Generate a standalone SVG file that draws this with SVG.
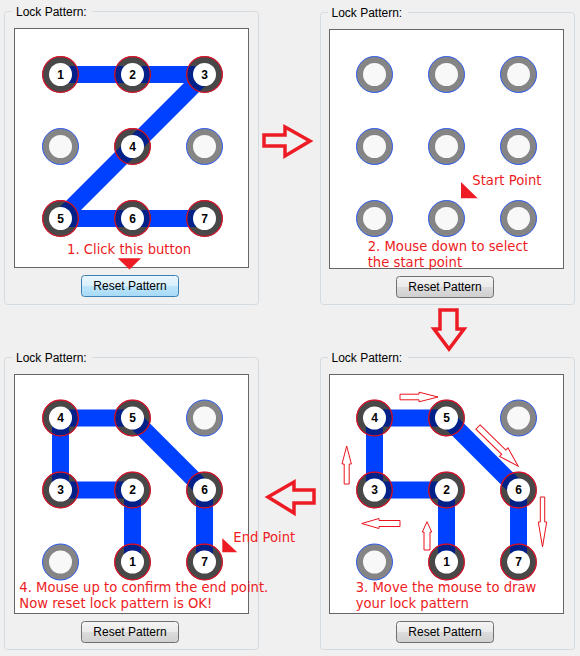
<svg xmlns="http://www.w3.org/2000/svg" width="580" height="656" viewBox="0 0 580 656">
<defs>
<style>
.gbox{fill:none;stroke:#d3dbe1;stroke-width:1}
.gcover{fill:#f0f0f0}
.glabel{font-family:"Liberation Sans",Arial,sans-serif;font-size:12px;fill:#000}
.canvas{fill:#fff;stroke:#666;stroke-width:1}
.btn{stroke:#707070;stroke-width:1;fill:url(#gray)}
.btnh{stroke:#3c7fb1;stroke-width:1;fill:url(#blue)}
.btext{font-family:"Liberation Sans",Arial,sans-serif;font-size:12px;fill:#000;text-anchor:middle}
.pline{fill:none;stroke:#0040ff;stroke-width:17;stroke-linejoin:bevel}
.pnavy{fill:none;stroke:#00208a;stroke-width:17;stroke-linejoin:bevel}
.ring{fill:#484848}
.ringo{fill:none;stroke:#e0102a;stroke-width:1.2}
.inner{fill:#fff}
.uring{fill:#858585;stroke:#2f5cf0;stroke-width:1}
.uinner{fill:#f8f8f8}
.num{font-family:"Liberation Sans",Arial,sans-serif;font-size:12px;font-weight:bold;fill:#000;text-anchor:middle}
.note{font-family:"DejaVu Sans",Verdana,sans-serif;font-size:13.2px;fill:#ed1c24}
.tri{fill:#ed1c24}
.big{fill:none;stroke:#ed1c24;stroke-width:3.5;stroke-linejoin:miter}
.small{fill:none;stroke:#e8141e;stroke-width:1}
</style>
<linearGradient id="gray" x1="0" y1="0" x2="0" y2="1">
<stop offset="0" stop-color="#f4f4f4"/><stop offset="0.5" stop-color="#eaeaea"/><stop offset="0.5" stop-color="#dcdcdc"/><stop offset="1" stop-color="#cfcfcf"/>
</linearGradient>
<linearGradient id="blue" x1="0" y1="0" x2="0" y2="1">
<stop offset="0" stop-color="#eaf6fd"/><stop offset="0.5" stop-color="#d9f0fc"/><stop offset="0.5" stop-color="#bee6fd"/><stop offset="1" stop-color="#a7d9f5"/>
</linearGradient>
<clipPath id="cp1">
<circle cx="60.5" cy="74.5" r="18.3"/><circle cx="132.5" cy="74.5" r="18.3"/><circle cx="204.5" cy="74.5" r="18.3"/>
<circle cx="132.5" cy="146.5" r="18.3"/>
<circle cx="60.5" cy="218.5" r="18.3"/><circle cx="132.5" cy="218.5" r="18.3"/><circle cx="204.5" cy="218.5" r="18.3"/>
</clipPath>
<clipPath id="cp3">
<circle cx="60.5" cy="418" r="18.3"/><circle cx="132.5" cy="418" r="18.3"/>
<circle cx="60.5" cy="490" r="18.3"/><circle cx="132.5" cy="490" r="18.3"/><circle cx="204.5" cy="490" r="18.3"/>
<circle cx="132.5" cy="562" r="18.3"/><circle cx="204.5" cy="562" r="18.3"/>
</clipPath>
<clipPath id="cp4">
<circle cx="374.5" cy="418" r="18.3"/><circle cx="446.5" cy="418" r="18.3"/>
<circle cx="374.5" cy="490" r="18.3"/><circle cx="446.5" cy="490" r="18.3"/><circle cx="518.5" cy="490" r="18.3"/>
<circle cx="446.5" cy="562" r="18.3"/><circle cx="518.5" cy="562" r="18.3"/>
</clipPath>
</defs>
<rect x="0" y="0" width="580" height="656" fill="#f0f0f0"/>

<!-- Panel 1 -->
<g id="panel1">
<rect class="gbox" x="4.5" y="11.5" width="254" height="293" rx="3"/>
<rect class="gcover" x="12" y="5" width="80" height="11"/>
<text class="glabel" x="16" y="16">Lock Pattern:</text>
<rect class="canvas" x="14.5" y="28.5" width="234" height="239"/>
<path class="pline" d="M60.5,74.5 H204.5 L60.5,218.5 H204.5"/>
<g id="p1-nodes">
<circle class="uring" cx="60.5" cy="146.5" r="18"/><circle class="uinner" cx="60.5" cy="146.5" r="11.5"/>
<circle class="uring" cx="204.5" cy="146.5" r="18"/><circle class="uinner" cx="204.5" cy="146.5" r="11.5"/>
<circle class="ring" cx="60.5" cy="74.5" r="18.3"/><circle class="ring" cx="132.5" cy="74.5" r="18.3"/><circle class="ring" cx="204.5" cy="74.5" r="18.3"/>
<circle class="ring" cx="132.5" cy="146.5" r="18.3"/>
<circle class="ring" cx="60.5" cy="218.5" r="18.3"/><circle class="ring" cx="132.5" cy="218.5" r="18.3"/><circle class="ring" cx="204.5" cy="218.5" r="18.3"/>
<path class="pnavy" clip-path="url(#cp1)" d="M60.5,74.5 H204.5 L60.5,218.5 H204.5"/>
<g id="p1-n1"><circle class="inner" cx="60.5" cy="74.5" r="11.5"/><circle class="ringo" cx="60.5" cy="74.5" r="17.8"/><text class="num" x="60.5" y="78.8">1</text></g>
<g id="p1-n2"><circle class="inner" cx="132.5" cy="74.5" r="11.5"/><circle class="ringo" cx="132.5" cy="74.5" r="17.8"/><text class="num" x="132.5" y="78.8">2</text></g>
<g id="p1-n3"><circle class="inner" cx="204.5" cy="74.5" r="11.5"/><circle class="ringo" cx="204.5" cy="74.5" r="17.8"/><text class="num" x="204.5" y="78.8">3</text></g>
<g id="p1-n4"><circle class="inner" cx="132.5" cy="146.5" r="11.5"/><circle class="ringo" cx="132.5" cy="146.5" r="17.8"/><text class="num" x="132.5" y="150.8">4</text></g>
<g id="p1-n5"><circle class="inner" cx="60.5" cy="218.5" r="11.5"/><circle class="ringo" cx="60.5" cy="218.5" r="17.8"/><text class="num" x="60.5" y="222.8">5</text></g>
<g id="p1-n6"><circle class="inner" cx="132.5" cy="218.5" r="11.5"/><circle class="ringo" cx="132.5" cy="218.5" r="17.8"/><text class="num" x="132.5" y="222.8">6</text></g>
<g id="p1-n7"><circle class="inner" cx="204.5" cy="218.5" r="11.5"/><circle class="ringo" cx="204.5" cy="218.5" r="17.8"/><text class="num" x="204.5" y="222.8">7</text></g>
</g>
<text class="note" x="67" y="254">1. Click this button</text>
<polygon class="tri" points="117.7,258.3 141,258.3 129.5,269.5"/>
<rect class="btnh" x="81.5" y="275.5" width="97" height="21" rx="3"/>
<text class="btext" x="130" y="290.3">Reset Pattern</text>
</g>

<!-- Panel 2 -->
<g id="panel2">
<rect class="gbox" x="320.5" y="12.5" width="254" height="292" rx="3"/>
<rect class="gcover" x="328" y="6" width="80" height="11"/>
<text class="glabel" x="331.5" y="16.5">Lock Pattern:</text>
<rect class="canvas" x="329.5" y="29.5" width="234" height="239"/>
<g id="p2-nodes">
<circle class="uring" cx="374.5" cy="74.5" r="18"/><circle class="uinner" cx="374.5" cy="74.5" r="11.5"/>
<circle class="uring" cx="446.5" cy="74.5" r="18"/><circle class="uinner" cx="446.5" cy="74.5" r="11.5"/>
<circle class="uring" cx="518.5" cy="74.5" r="18"/><circle class="uinner" cx="518.5" cy="74.5" r="11.5"/>
<circle class="uring" cx="374.5" cy="146.5" r="18"/><circle class="uinner" cx="374.5" cy="146.5" r="11.5"/>
<circle class="uring" cx="446.5" cy="146.5" r="18"/><circle class="uinner" cx="446.5" cy="146.5" r="11.5"/>
<circle class="uring" cx="518.5" cy="146.5" r="18"/><circle class="uinner" cx="518.5" cy="146.5" r="11.5"/>
<circle class="uring" cx="374.5" cy="218.5" r="18"/><circle class="uinner" cx="374.5" cy="218.5" r="11.5"/>
<circle class="uring" cx="446.5" cy="218.5" r="18"/><circle class="uinner" cx="446.5" cy="218.5" r="11.5"/>
<circle class="uring" cx="518.5" cy="218.5" r="18"/><circle class="uinner" cx="518.5" cy="218.5" r="11.5"/>
</g>
<text class="note" x="472.3" y="185">Start Point</text>
<polygon class="tri" points="461,182 461,198.3 477.7,198.3"/>
<text class="note" x="367.7" y="250.7">2. Mouse down to select</text>
<text class="note" x="367.7" y="266.7">the start point</text>
<rect class="btn" x="396.5" y="276.5" width="97" height="21" rx="3"/>
<text class="btext" x="445" y="291.3">Reset Pattern</text>
</g>

<!-- Panel 3 (bottom-left) -->
<g id="panel3">
<rect class="gbox" x="4.5" y="357.5" width="254" height="292" rx="3"/>
<rect class="gcover" x="12" y="351" width="80" height="11"/>
<text class="glabel" x="16" y="361.5">Lock Pattern:</text>
<rect class="canvas" x="14.5" y="374.5" width="234" height="239"/>
<path class="pline" d="M132.5,562 V490 H60.5 V418 H132.5 L204.5,490 V562"/>
<g id="p3-nodes">
<circle class="uring" cx="204.5" cy="418" r="18"/><circle class="uinner" cx="204.5" cy="418" r="11.5"/>
<circle class="uring" cx="60.5" cy="562" r="18"/><circle class="uinner" cx="60.5" cy="562" r="11.5"/>
<circle class="ring" cx="60.5" cy="418" r="18.3"/><circle class="ring" cx="132.5" cy="418" r="18.3"/>
<circle class="ring" cx="60.5" cy="490" r="18.3"/><circle class="ring" cx="132.5" cy="490" r="18.3"/><circle class="ring" cx="204.5" cy="490" r="18.3"/>
<circle class="ring" cx="132.5" cy="562" r="18.3"/><circle class="ring" cx="204.5" cy="562" r="18.3"/>
<path class="pnavy" clip-path="url(#cp3)" d="M132.5,562 V490 H60.5 V418 H132.5 L204.5,490 V562"/>
<g id="p3-n4"><circle class="inner" cx="60.5" cy="418" r="11.5"/><circle class="ringo" cx="60.5" cy="418" r="17.8"/><text class="num" x="60.5" y="422.3">4</text></g>
<g id="p3-n5"><circle class="inner" cx="132.5" cy="418" r="11.5"/><circle class="ringo" cx="132.5" cy="418" r="17.8"/><text class="num" x="132.5" y="422.3">5</text></g>
<g id="p3-n3"><circle class="inner" cx="60.5" cy="490" r="11.5"/><circle class="ringo" cx="60.5" cy="490" r="17.8"/><text class="num" x="60.5" y="494.3">3</text></g>
<g id="p3-n2"><circle class="inner" cx="132.5" cy="490" r="11.5"/><circle class="ringo" cx="132.5" cy="490" r="17.8"/><text class="num" x="132.5" y="494.3">2</text></g>
<g id="p3-n6"><circle class="inner" cx="204.5" cy="490" r="11.5"/><circle class="ringo" cx="204.5" cy="490" r="17.8"/><text class="num" x="204.5" y="494.3">6</text></g>
<g id="p3-n1"><circle class="inner" cx="132.5" cy="562" r="11.5"/><circle class="ringo" cx="132.5" cy="562" r="17.8"/><text class="num" x="132.5" y="566.3">1</text></g>
<g id="p3-n7"><circle class="inner" cx="204.5" cy="562" r="11.5"/><circle class="ringo" cx="204.5" cy="562" r="17.8"/><text class="num" x="204.5" y="566.3">7</text></g>
</g>
<polygon class="tri" points="222.3,538.3 222.3,552.3 237.3,552.3"/>
<text class="note" x="233.3" y="542.3">End Point</text>
<text class="note" x="19.3" y="592.3">4. Mouse up to confirm the end point.</text>
<text class="note" x="19.3" y="608.3">Now reset lock pattern is OK!</text>
<rect class="btn" x="81.5" y="621.5" width="97" height="21" rx="3"/>
<text class="btext" x="130" y="636.3">Reset Pattern</text>
</g>

<!-- Panel 4 (bottom-right) -->
<g id="panel4">
<rect class="gbox" x="320.5" y="357.5" width="254" height="292" rx="3"/>
<rect class="gcover" x="328" y="351" width="80" height="11"/>
<text class="glabel" x="331.5" y="361.5">Lock Pattern:</text>
<rect class="canvas" x="329.5" y="374.5" width="234" height="239"/>
<path class="pline" d="M446.5,562 V490 H374.5 V418 H446.5 L518.5,490 V562"/>
<g id="p4-nodes">
<circle class="uring" cx="518.5" cy="418" r="18"/><circle class="uinner" cx="518.5" cy="418" r="11.5"/>
<circle class="uring" cx="374.5" cy="562" r="18"/><circle class="uinner" cx="374.5" cy="562" r="11.5"/>
<circle class="ring" cx="374.5" cy="418" r="18.3"/><circle class="ring" cx="446.5" cy="418" r="18.3"/>
<circle class="ring" cx="374.5" cy="490" r="18.3"/><circle class="ring" cx="446.5" cy="490" r="18.3"/><circle class="ring" cx="518.5" cy="490" r="18.3"/>
<circle class="ring" cx="446.5" cy="562" r="18.3"/><circle class="ring" cx="518.5" cy="562" r="18.3"/>
<path class="pnavy" clip-path="url(#cp4)" d="M446.5,562 V490 H374.5 V418 H446.5 L518.5,490 V562"/>
<g id="p4-n4"><circle class="inner" cx="374.5" cy="418" r="11.5"/><circle class="ringo" cx="374.5" cy="418" r="17.8"/><text class="num" x="374.5" y="422.3">4</text></g>
<g id="p4-n5"><circle class="inner" cx="446.5" cy="418" r="11.5"/><circle class="ringo" cx="446.5" cy="418" r="17.8"/><text class="num" x="446.5" y="422.3">5</text></g>
<g id="p4-n3"><circle class="inner" cx="374.5" cy="490" r="11.5"/><circle class="ringo" cx="374.5" cy="490" r="17.8"/><text class="num" x="374.5" y="494.3">3</text></g>
<g id="p4-n2"><circle class="inner" cx="446.5" cy="490" r="11.5"/><circle class="ringo" cx="446.5" cy="490" r="17.8"/><text class="num" x="446.5" y="494.3">2</text></g>
<g id="p4-n6"><circle class="inner" cx="518.5" cy="490" r="11.5"/><circle class="ringo" cx="518.5" cy="490" r="17.8"/><text class="num" x="518.5" y="494.3">6</text></g>
<g id="p4-n1"><circle class="inner" cx="446.5" cy="562" r="11.5"/><circle class="ringo" cx="446.5" cy="562" r="17.8"/><text class="num" x="446.5" y="566.3">1</text></g>
<g id="p4-n7"><circle class="inner" cx="518.5" cy="562" r="11.5"/><circle class="ringo" cx="518.5" cy="562" r="17.8"/><text class="num" x="518.5" y="566.3">7</text></g>
</g>
<g id="p4-hints">
<path class="small" transform="translate(400,397)" d="M0,-2.8 H19 V-4.8 L38,0 L19,4.8 V2.8 H0 Z"/>
<path class="small" transform="translate(478,427) rotate(44.3)" d="M0,-3 H36 V-6 L56,0 L36,6 V3 H0 Z"/>
<path class="small" transform="translate(346.7,484) rotate(-90)" d="M0,-2.5 H20 V-4.7 L38,0 L20,4.7 V2.5 H0 Z"/>
<path class="small" transform="translate(542.5,497) rotate(90)" d="M0,-2.2 H25 V-4.2 L50,0 L25,4.2 V2.2 H0 Z"/>
<path class="small" transform="translate(400,523.5) rotate(180)" d="M0,-3 H21 V-5 L38.3,0 L21,5 V3 H0 Z"/>
<path class="small" transform="translate(427,550) rotate(-90)" d="M0,-3 H18 V-4.7 L28.3,0 L18,4.7 V3 H0 Z"/>
</g>
<text class="note" x="355.7" y="592.3">3. Move the mouse to draw</text>
<text class="note" x="355.7" y="608.3">your lock pattern</text>
<rect class="btn" x="396.5" y="621.5" width="97" height="21" rx="3"/>
<text class="btext" x="445" y="636.3">Reset Pattern</text>
</g>

<!-- Connectors between steps -->
<g id="connectors">
<path class="big" d="M264,135 H285 V127 L310,141 L285,156 V146 H264 Z"/>
<path class="big" d="M440,310 H457 V329 H464 L449,349 L434,329 H440 Z"/>
<path class="big" d="M314,490 V503 H294 V513 L268,497 L294,482 V490 Z"/>
</g>
</svg>
